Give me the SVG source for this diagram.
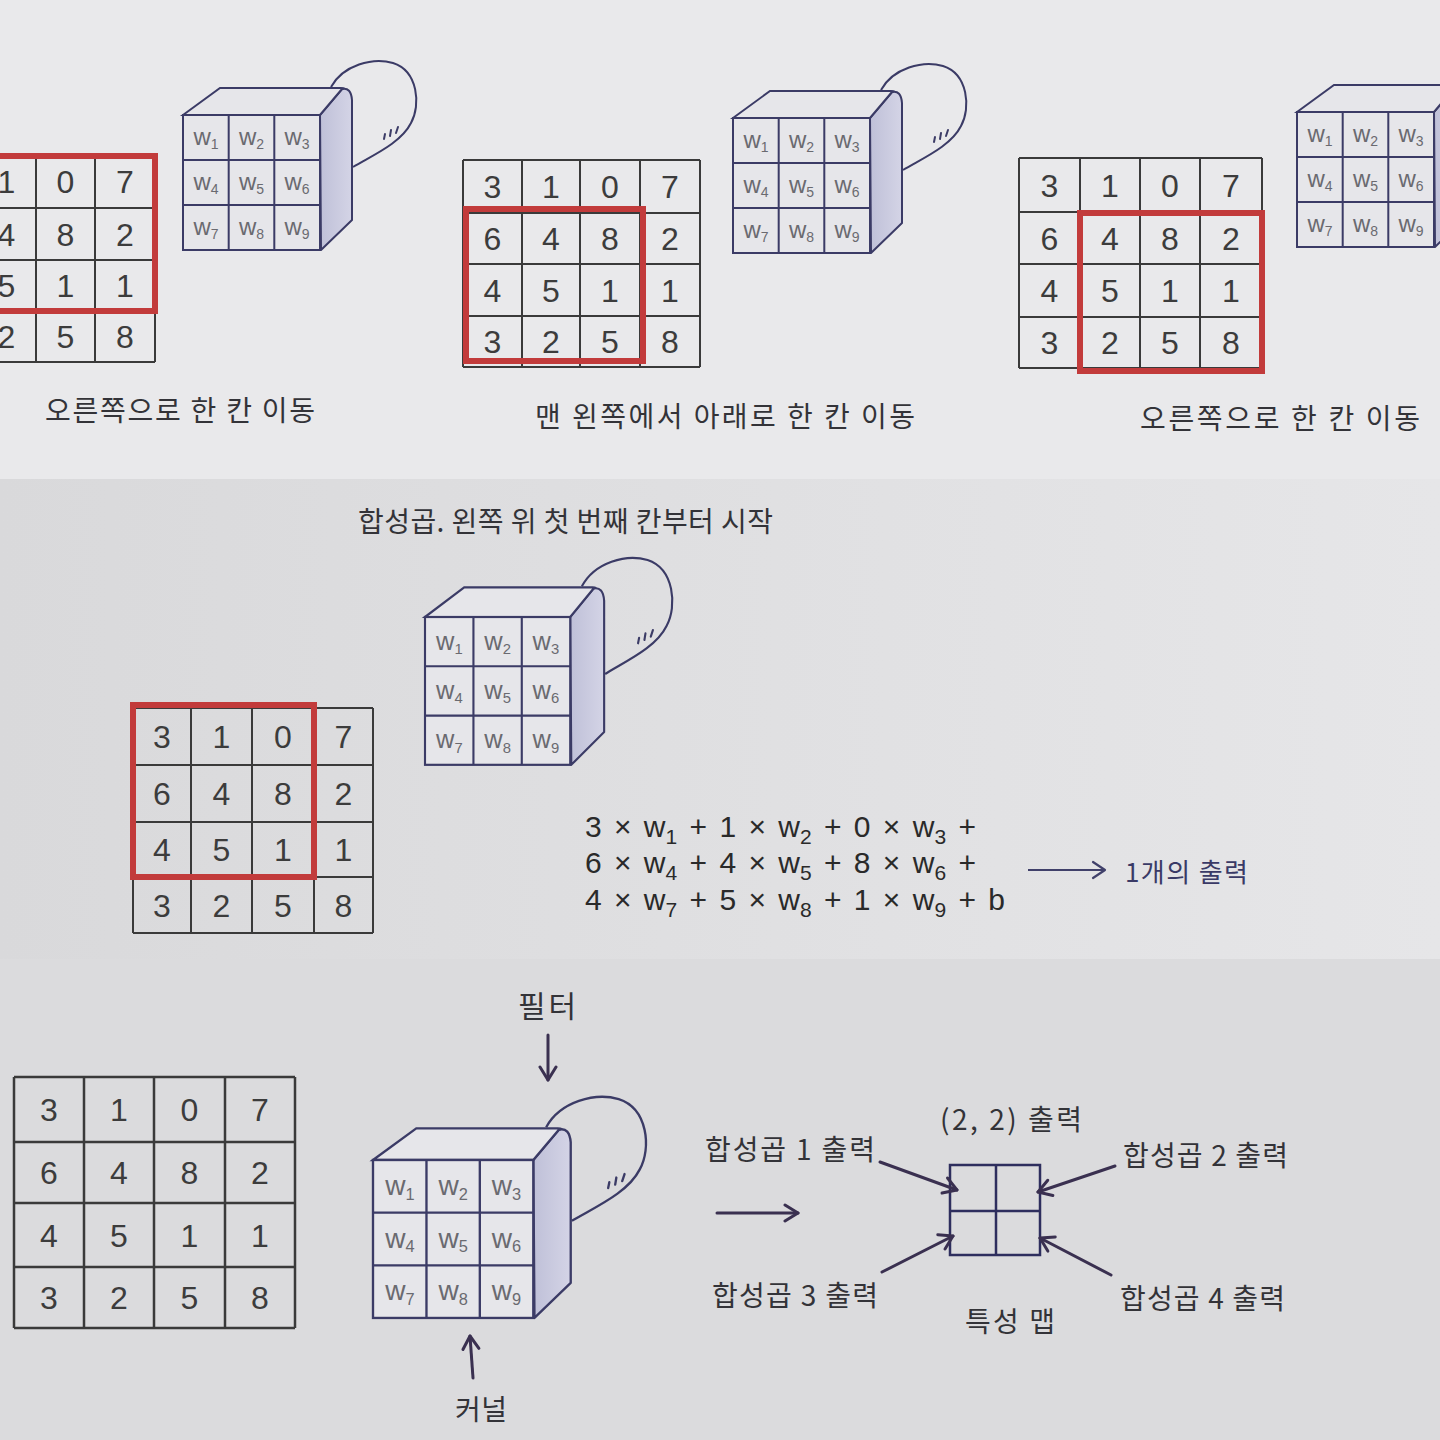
<svg xmlns="http://www.w3.org/2000/svg" xmlns:xlink="http://www.w3.org/1999/xlink" width="1440" height="1440" viewBox="0 0 1440 1440">
<defs>
<style>
.g{fill:none;stroke:#3a3a3a;stroke-width:2}
.d{font-family:"Liberation Sans",Arial,sans-serif;font-size:32px;fill:#3c3c3c;text-anchor:middle}
.red{fill:none;stroke:#c23b3b;stroke-width:6}
.cl{fill:none;stroke:#3b3b66;stroke-width:2;stroke-linejoin:round}
.cf{fill:#e6e6ea;stroke:#3b3b66;stroke-width:2}
.wt{font-family:"Liberation Sans",Arial,sans-serif;font-size:24px;fill:#6a6a70;text-anchor:middle}
.hw{font-family:"Noto Sans CJK KR","Noto Sans",sans-serif;font-size:28px;fill:#333338}
.eq{font-family:"Liberation Sans",Arial,sans-serif;font-size:30px;fill:#2a2a2a;word-spacing:4px}
.ar{fill:none;stroke:#3a3050;stroke-width:3;stroke-linecap:round}
</style>
<linearGradient id="side" x1="0" y1="0" x2="1" y2="0">
<stop offset="0" stop-color="#bfc0d8"/><stop offset="1" stop-color="#d4d4e6"/>
</linearGradient>
<linearGradient id="mid" x1="0" y1="0" x2="1" y2="0">
<stop offset="0" stop-color="#d9d9db"/><stop offset="1" stop-color="#e6e6e8"/>
</linearGradient>
<marker id="ah" markerUnits="userSpaceOnUse" markerWidth="24" markerHeight="24" refX="16" refY="10" orient="auto">
<path d="M3,2 L16,10 L3,18" fill="none" stroke="#3a3050" stroke-width="3" stroke-linecap="round" stroke-linejoin="round"/>
</marker>
<marker id="ah2" markerUnits="userSpaceOnUse" markerWidth="24" markerHeight="24" refX="16" refY="10" orient="auto">
<path d="M4,2 L16,10 L4,18" fill="none" stroke="#40406a" stroke-width="2.2" stroke-linecap="round" stroke-linejoin="round"/>
</marker>
<g id="cube">
<path d="M137,0 L159,-26 Q168,-28 169,-15 L169,105 L138,135 Z" fill="url(#side)" stroke="#3b3b66" stroke-width="2" stroke-linejoin="round"/>
<path d="M0,0 L37,-27 L158,-27 Q163,-27 159,-26 L137,0 Z" class="cf"/>
<rect x="0" y="0" width="137" height="135" class="cf"/>
<path d="M45.7,0 V135 M91.3,0 V135 M0,45 H137 M0,90 H137" class="cl"/>
<path d="M148,-28 C160,-50 190,-58 210,-52 C235,-44 238,-10 228,8 C218,28 190,40 170,52" class="cl"/>
<path d="M201,24 L202,19 M207,21 L208,15 M213,18 L215,12" class="cl" stroke-linecap="round"/>
<text class="wt" x="23" y="30">w<tspan font-size="14" dy="4">1</tspan></text>
<text class="wt" x="68.5" y="30">w<tspan font-size="14" dy="4">2</tspan></text>
<text class="wt" x="114" y="30">w<tspan font-size="14" dy="4">3</tspan></text>
<text class="wt" x="23" y="75">w<tspan font-size="14" dy="4">4</tspan></text>
<text class="wt" x="68.5" y="75">w<tspan font-size="14" dy="4">5</tspan></text>
<text class="wt" x="114" y="75">w<tspan font-size="14" dy="4">6</tspan></text>
<text class="wt" x="23" y="120">w<tspan font-size="14" dy="4">7</tspan></text>
<text class="wt" x="68.5" y="120">w<tspan font-size="14" dy="4">8</tspan></text>
<text class="wt" x="114" y="120">w<tspan font-size="14" dy="4">9</tspan></text>
</g>
</defs>

<rect x="0" y="0" width="1440" height="479" fill="#e9e9eb"/>
<rect x="0" y="479" width="1440" height="480" fill="url(#mid)"/>
<rect x="0" y="959" width="1440" height="481" fill="#dbdbdd"/>

<!-- Top-left panel -->
<g id="grid-top-left">
<path class="g" d="M-81,155 H155 M-81,208 H155 M-81,260 H155 M-81,311 H155 M-81,362 H155 M-23,155 V362 M36,155 V362 M95,155 V362 M155,155 V362"/>
<text class="d" x="6.5" y="193">1</text><text class="d" x="65.5" y="193">0</text><text class="d" x="125" y="193">7</text>
<text class="d" x="6.5" y="245.5">4</text><text class="d" x="65.5" y="245.5">8</text><text class="d" x="125" y="245.5">2</text>
<text class="d" x="6.5" y="297">5</text><text class="d" x="65.5" y="297">1</text><text class="d" x="125" y="297">1</text>
<text class="d" x="6.5" y="348">2</text><text class="d" x="65.5" y="348">5</text><text class="d" x="125" y="348">8</text>
<rect class="red" x="-23" y="156" width="178" height="155"/>
</g>
<g id="filter-top-left"><use xlink:href="#cube" transform="translate(183,115)"/></g>
<text id="label-top-left" class="hw" x="45" y="421" textLength="270" lengthAdjust="spacing">오른쪽으로 한 칸 이동</text>

<!-- Top-middle panel -->
<g id="grid-top-mid">
<path class="g" d="M463,160 H700 M463,213 H700 M463,264 H700 M463,316 H700 M463,367 H700 M463,160 V367 M522,160 V367 M580,160 V367 M640,160 V367 M700,160 V367"/>
<text class="d" x="492.5" y="198">3</text><text class="d" x="551" y="198">1</text><text class="d" x="610" y="198">0</text><text class="d" x="670" y="198">7</text>
<text class="d" x="492.5" y="250">6</text><text class="d" x="551" y="250">4</text><text class="d" x="610" y="250">8</text><text class="d" x="670" y="250">2</text>
<text class="d" x="492.5" y="301.5">4</text><text class="d" x="551" y="301.5">5</text><text class="d" x="610" y="301.5">1</text><text class="d" x="670" y="301.5">1</text>
<text class="d" x="492.5" y="353">3</text><text class="d" x="551" y="353">2</text><text class="d" x="610" y="353">5</text><text class="d" x="670" y="353">8</text>
<rect class="red" x="466" y="209" width="177" height="152"/>
</g>
<g id="filter-top-mid"><use xlink:href="#cube" transform="translate(733,118)"/></g>
<text id="label-top-mid" class="hw" x="535" y="427" textLength="380" lengthAdjust="spacing">맨 왼쪽에서 아래로 한 칸 이동</text>

<!-- Top-right panel -->
<g id="grid-top-right">
<path class="g" d="M1019,158 H1262 M1019,212 H1262 M1019,264 H1262 M1019,317 H1262 M1019,368 H1262 M1019,158 V368 M1080,158 V368 M1140,158 V368 M1200,158 V368 M1262,158 V368"/>
<text class="d" x="1049.5" y="196.5">3</text><text class="d" x="1110" y="196.5">1</text><text class="d" x="1170" y="196.5">0</text><text class="d" x="1231" y="196.5">7</text>
<text class="d" x="1049.5" y="249.5">6</text><text class="d" x="1110" y="249.5">4</text><text class="d" x="1170" y="249.5">8</text><text class="d" x="1231" y="249.5">2</text>
<text class="d" x="1049.5" y="302">4</text><text class="d" x="1110" y="302">5</text><text class="d" x="1170" y="302">1</text><text class="d" x="1231" y="302">1</text>
<text class="d" x="1049.5" y="354">3</text><text class="d" x="1110" y="354">2</text><text class="d" x="1170" y="354">5</text><text class="d" x="1231" y="354">8</text>
<rect class="red" x="1080" y="213" width="182" height="158"/>
</g>
<g id="filter-top-right"><use xlink:href="#cube" transform="translate(1297,112)"/></g>
<text id="label-top-right" class="hw" x="1140" y="429" textLength="280" lengthAdjust="spacing">오른쪽으로 한 칸 이동</text>

<!-- Middle panel -->
<text id="title-mid" class="hw" x="358" y="532" textLength="415" lengthAdjust="spacing">합성곱. 왼쪽 위 첫 번째 칸부터 시작</text>
<g id="grid-mid">
<path class="g" d="M133,708 H373 M133,765 H373 M133,822 H373 M133,877 H373 M133,933 H373 M133,708 V933 M191,708 V933 M252,708 V933 M314,708 V933 M373,708 V933"/>
<text class="d" x="162" y="748">3</text><text class="d" x="221.5" y="748">1</text><text class="d" x="283" y="748">0</text><text class="d" x="343.5" y="748">7</text>
<text class="d" x="162" y="805">6</text><text class="d" x="221.5" y="805">4</text><text class="d" x="283" y="805">8</text><text class="d" x="343.5" y="805">2</text>
<text class="d" x="162" y="861">4</text><text class="d" x="221.5" y="861">5</text><text class="d" x="283" y="861">1</text><text class="d" x="343.5" y="861">1</text>
<text class="d" x="162" y="916.5">3</text><text class="d" x="221.5" y="916.5">2</text><text class="d" x="283" y="916.5">5</text><text class="d" x="343.5" y="916.5">8</text>
<rect class="red" x="133" y="705" width="181" height="172"/>
</g>
<g id="filter-mid"><use xlink:href="#cube" transform="translate(425,617) scale(1.06,1.095)"/></g>
<g id="equation">
<text class="eq" x="585" y="837">3 × w<tspan font-size="21" dy="7">1</tspan><tspan dy="-7"> + 1 × w</tspan><tspan font-size="21" dy="7">2</tspan><tspan dy="-7"> + 0 × w</tspan><tspan font-size="21" dy="7">3</tspan><tspan dy="-7"> +</tspan></text>
<text class="eq" x="585" y="873">6 × w<tspan font-size="21" dy="7">4</tspan><tspan dy="-7"> + 4 × w</tspan><tspan font-size="21" dy="7">5</tspan><tspan dy="-7"> + 8 × w</tspan><tspan font-size="21" dy="7">6</tspan><tspan dy="-7"> +</tspan></text>
<text class="eq" x="585" y="910">4 × w<tspan font-size="21" dy="7">7</tspan><tspan dy="-7"> + 5 × w</tspan><tspan font-size="21" dy="7">8</tspan><tspan dy="-7"> + 1 × w</tspan><tspan font-size="21" dy="7">9</tspan><tspan dy="-7"> + b</tspan></text>
</g>
<text id="label-one-output" class="hw" x="1125" y="882" textLength="123" lengthAdjust="spacing" style="fill:#3a3a66;font-size:26px">1개의 출력</text>

<!-- Bottom panel -->
<g id="grid-bottom">
<path class="g" d="M14,1077 H295 M14,1142 H295 M14,1203 H295 M14,1267 H295 M14,1328 H295 M14,1077 V1328 M84,1077 V1328 M154,1077 V1328 M225,1077 V1328 M295,1077 V1328" style="stroke-width:2.5"/>
<text class="d" x="49" y="1121">3</text><text class="d" x="119" y="1121">1</text><text class="d" x="189.5" y="1121">0</text><text class="d" x="260" y="1121">7</text>
<text class="d" x="49" y="1184">6</text><text class="d" x="119" y="1184">4</text><text class="d" x="189.5" y="1184">8</text><text class="d" x="260" y="1184">2</text>
<text class="d" x="49" y="1246.5">4</text><text class="d" x="119" y="1246.5">5</text><text class="d" x="189.5" y="1246.5">1</text><text class="d" x="260" y="1246.5">1</text>
<text class="d" x="49" y="1309">3</text><text class="d" x="119" y="1309">2</text><text class="d" x="189.5" y="1309">5</text><text class="d" x="260" y="1309">8</text>
</g>
<g id="filter-bottom"><use xlink:href="#cube" transform="translate(373,1160) scale(1.17,1.17)"/></g>
<text id="label-filter" class="hw" x="518" y="1017" textLength="58" lengthAdjust="spacing" style="font-size:30px">필터</text>
<text id="label-kernel" class="hw" x="455" y="1420" textLength="52" lengthAdjust="spacing" style="font-size:28px">커널</text>

<g id="feature-map">
<rect x="950" y="1165" width="90" height="90" fill="none" stroke="#2e2e5e" stroke-width="2.5"/>
<path d="M996,1165 V1255 M950,1211 H1040" fill="none" stroke="#2e2e5e" stroke-width="2.5"/>
</g>
<text id="label-22" class="hw" x="940" y="1130" textLength="142" lengthAdjust="spacing">(2, 2) 출력</text>
<text id="label-c1" class="hw" x="705" y="1160" textLength="170" lengthAdjust="spacing">합성곱 1 출력</text>
<text id="label-c2" class="hw" x="1123" y="1166" textLength="165" lengthAdjust="spacing">합성곱 2 출력</text>
<text id="label-c3" class="hw" x="712" y="1306" textLength="166" lengthAdjust="spacing">합성곱 3 출력</text>
<text id="label-c4" class="hw" x="1120" y="1309" textLength="165" lengthAdjust="spacing">합성곱 4 출력</text>
<text id="label-fmap" class="hw" x="965" y="1332" textLength="90" lengthAdjust="spacing">특성 맵</text>

<g id="connectors">
<path d="M1028,870 L1105,870" fill="none" stroke="#40406a" stroke-width="2.2" marker-end="url(#ah2)"/>
<path class="ar" d="M548,1035 L548,1080" marker-end="url(#ah)"/>
<path class="ar" d="M473,1378 L470,1336" marker-end="url(#ah)"/>
<path class="ar" d="M880,1162 L957,1190" marker-end="url(#ah)"/>
<path class="ar" d="M1115,1166 L1038,1192" marker-end="url(#ah)"/>
<path class="ar" d="M717,1213 L798,1213" marker-end="url(#ah)"/>
<path class="ar" d="M882,1272 L953,1236" marker-end="url(#ah)"/>
<path class="ar" d="M1111,1275 L1040,1238" marker-end="url(#ah)"/>
</g>
</svg>
